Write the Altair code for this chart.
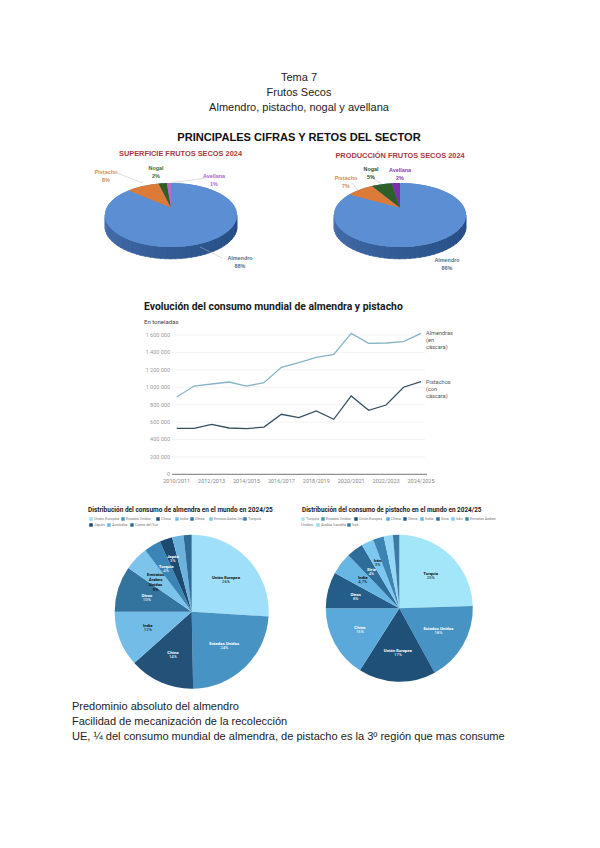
import math
import altair as alt

# ---------- data ----------
years = ["2010/2011","2011/2012","2012/2013","2013/2014","2014/2015","2015/2016","2016/2017","2017/2018",
         "2018/2019","2019/2020","2020/2021","2021/2022","2022/2023","2023/2024","2024/2025"]
almendras = [888000,1014000,1037000,1060000,1014000,1052000,1229000,1282000,1343000,1378000,1619000,1504000,1508000,1523000,1619000]
pistachos = [528000,528000,574000,532000,524000,543000,689000,651000,727000,632000,900000,735000,796000,1000000,1064000]
y_ticks = [0,200000,400000,600000,800000,1000000,1200000,1400000,1600000]
y_tick_labels = ["0","200 000","400 000","600 000","800 000","1 000 000","1 200 000","1 400 000","1 600 000"]
x_ticks = years[::2]

sup_vals = [88,8,2,1]
sup_cols = ["#5b8ed2","#dc7a38","#2f5f24","#b56ad6"]
prod_vals = [86,7,5,2]
prod_cols = ["#5b8ed2","#dc7a38","#2d5f2a","#7a30a8"]

alm_names = ["Unión Europea","Estados Unidos","China","India","Otros","Emiratos Árabes Unidos","Turquía","Japón","Australia","Corea del Sur"]
alm_labels = ["Unión Europea","Estados Unidos","China","India","Otros","Emiratos|Árabes|Unidos|5%","Turquía","Japón","",""]
alm_vals = [26,23.7,13.7,11.6,9.6,5.1,3.5,2.7,2.4,1.7]
alm_pct = ["26%","24%","14%","12%","10%","","4%","3%","",""]
alm_cols = ["#9fdff9","#4693c4","#235178","#72bce8","#33749f","#7cc4ec","#3a85b5","#1d4a70","#6bb3de","#2e6c98"]
alm_txt = ["#111111","#ffffff","#ffffff","#111111","#ffffff","#111111","#ffffff","#ffffff","#ffffff","#ffffff"]
alm_rad = [47,47,47,47,47,50,50,56,47,47]

pis_names = ["Turquía","Estados Unidos","Unión Europea","China","Otros","India","Siria","Irán","Emiratos Árabes","Arabia Saudita","Irak"]
pis_labels = ["Turquía","Estados Unidos","Unión Europea","China","Otros","India","Siria","Irán","","",""]
pis_vals = [24.5,17.5,17,16,8,4.8,3.7,2.7,2.4,2,1.4]
pis_pct = ["25%","18%","17%","16%","8%","4,7%","4%","3%","","",""]
pis_cols = ["#a4e6f9","#4693c4","#1f5078","#5ba9da","#245d88","#68b6e3","#2e6d9a","#7cc8f0","#3d84b3","#93d8f7","#3a7ba8"]
pis_txt = ["#111111","#ffffff","#ffffff","#ffffff","#ffffff","#111111","#ffffff","#111111","#ffffff","#ffffff","#ffffff"]
pis_rad = [45,45,45,45,45,46,46,50,45,45,45]

FONT = "Liberation Sans"
RB = "Roboto"
layers = []
one = alt.Data(values=[{"a": 0}])

def T(x, y, s, size=6, color="#222222", weight="normal", align="left", font=RB):
    layers.append(alt.Chart(one).mark_text(fontSize=size, color=color, fontWeight=weight, align=align,
                                           baseline="middle", font=font)
                  .encode(x=alt.value(x-8), y=alt.value(y-8), text=alt.value(s)))

def R(x1, y1, x2, y2, color="#bbbbbb", w=0.5):
    layers.append(alt.Chart(one).mark_rule(color=color, strokeWidth=w)
                  .encode(x=alt.value(x1-8), x2=alt.value(x2-8), y=alt.value(y1-8), y2=alt.value(y2-8)))

# ---------- document text ----------
T(299,78,"Tema 7",11,"#222222",align="center",font=FONT)
T(299,93,"Frutos Secos",11,"#222222",align="center",font=FONT)
T(299,108,"Almendro, pistacho, nogal y avellana",11,"#222222",align="center",font=FONT)
T(299,138,"PRINCIPALES CIFRAS Y RETOS DEL SECTOR",11.1,"#111111","bold",align="center",font=FONT)
T(72,707,"Predominio absoluto del almendro",11,"#222222",font=FONT)
T(72,722,"Facilidad de mecanización de la recolección",11,"#222222",font=FONT)
T(72,737,"UE, ¼ del consumo mundial de almendra, de pistacho es la 3º región que mas consume",11.07,"#222222",font=FONT)

# ---------- 3D pies: elliptical slices through one identity projection ----------
RY = 0.485; APEX = 0.11; DEPTH = 0.18
RAD = 66
PIE_GAP = (400-171)/RAD   # second pie, in pie radii to the right of the first

def ell(t, off):
    return [off+math.sin(t), RY*math.cos(t)]

def feature(ring, color):
    return {"type":"Feature","properties":{"color":color},"geometry":{"type":"Polygon","coordinates":[ring]}}

def pie3d(vals, cols, off):
    side = []
    n = 40
    for k in range(n):
        a = math.pi/2 + math.pi*k/n
        b = math.pi/2 + math.pi*(k+1)/n + 0.01
        f = (k+0.5)/n   # 0 = right, 1 = left
        c0, c1 = (38,78,132), (70,112,175)
        col = "#%02x%02x%02x" % tuple(int(c0[i]+(c1[i]-c0[i])*f**1.3) for i in range(3))
        p, q = ell(a,off), ell(b,off)
        side.append(feature([p,q,[q[0],q[1]-DEPTH],[p[0],p[1]-DEPTH],p], col))
    tops = [feature([ell(2*math.pi*k/90,off) for k in range(91)], cols[0])]
    tot = sum(vals); acc = 0
    for v, c in zip(vals, cols):
        a0 = 2*math.pi*acc/tot; a1 = 2*math.pi*(acc+v)/tot
        m = max(3, int(60*(a1-a0)))
        ring = [[off, APEX]] + [ell(a0+(a1-a0)*j/m,off) for j in range(m+1)] + [[off, APEX]]
        tops.append(feature(ring, c))
        acc += v
    for feats, sw in ((side, 0.6), (tops, 0)):
        layers.append(alt.Chart(alt.Data(values=feats)).mark_geoshape(strokeWidth=sw)
                      .encode(color=alt.Color("properties.color:N", scale=None),
                              stroke=alt.Stroke("properties.color:N", scale=None))
                      .project(type="identity", reflectY=True, scale=RAD, translate=[171-8, 215-8]))

pie3d(sup_vals, sup_cols, 0)
pie3d(prod_vals, prod_cols, PIE_GAP)

T(180.5,154,"SUPERFICIE FRUTOS SECOS 2024",7.4,"#a63a40","bold",align="center",font=FONT)
T(400,156,"PRODUCCIÓN FRUTOS SECOS 2024",7.4,"#a63a40","bold",align="center",font=FONT)

R(117,173,143,183); R(206,178,170,183); R(222,258,200,247)
R(352,183,358,190); R(372,178,382,184)
lab = lambda x,y,a,b,c: (T(x,y,a,5.4,c,"bold",align="center",font=FONT), T(x,y+7.5,b,5.4,c,"bold",align="center",font=FONT))
lab(106,172,"Pistacho","8%","#d88a55")
lab(156,168,"Nogal","2%","#3c6b34")
lab(214,176,"Avellana","1%","#a868c8")
lab(240,258,"Almendro","88%","#55708f")
lab(346,178,"Pistacho","7%","#d88a55")
lab(371,169,"Nogal","5%","#2f4f2a")
lab(400,170,"Avellana","2%","#8a3ab0")
lab(447,260,"Almendro","86%","#55708f")

# ---------- line chart ----------
T(144,307,"Evolución del consumo mundial de almendra y pistacho",10.4,"#1a1a1a","bold")
T(144,322,"En toneladas",6,"#444444")

xs = alt.Scale(type="point", domain=years, range=[176.7-8, 421-8], padding=0)
ys = alt.Scale(domain=[0,1600000], range=[474.3-8, 335-8])
tick_rows = [{"v":v,"l":l} for v,l in zip(y_ticks,y_tick_labels)]
layers.append(alt.Chart(alt.Data(values=[r for r in tick_rows if r["v"]>0])).mark_rule(color="#eeeeee", strokeWidth=0.7)
              .encode(y=alt.Y("v:Q",scale=ys,axis=None), x=alt.value(172-8), x2=alt.value(425-8)))
layers.append(alt.Chart(alt.Data(values=[{"v":0}])).mark_rule(color="#666666", strokeWidth=0.9)
              .encode(y=alt.Y("v:Q",scale=ys,axis=None), x=alt.value(172-8), x2=alt.value(427-8)))
layers.append(alt.Chart(alt.Data(values=tick_rows)).mark_text(fontSize=5.5,color="#999999",align="right",baseline="middle",font=RB)
              .encode(y=alt.Y("v:Q",scale=ys,axis=None), x=alt.value(170-8), text="l:N"))
layers.append(alt.Chart(alt.Data(values=[{"t":t} for t in x_ticks])).mark_text(fontSize=5.5,color="#888888",align="center",baseline="middle",font=RB)
              .encode(x=alt.X("t:N",scale=xs,axis=None), y=alt.value(481-8), text="t:N"))
for vals, col in ((almendras,"#86b4c6"),(pistachos,"#35505f")):
    layers.append(alt.Chart(alt.Data(values=[{"t":t,"v":v} for t,v in zip(years,vals)])).mark_line(color=col,strokeWidth=1.3)
                  .encode(x=alt.X("t:N",scale=xs,axis=None,sort=None), y=alt.Y("v:Q",scale=ys,axis=None)))
for i,s in enumerate(["Almendras","(en","cáscara)"]):
    T(426,333+7.2*i,s,5.6,"#555555")
for i,s in enumerate(["Pistachos","(con","cáscara)"]):
    T(426,382+7.2*i,s,5.6,"#555555")

# ---------- flat pies ----------
def flat_pie(labels, vals, pct, cols, txt, radii, cx, cy, rad):
    total = sum(vals)
    mids = []; acc = 0
    for v in vals:
        mids.append(acc + v/2); acc += v
    rows = [{"i":i,"n":n,"v":v,"p":p,"c":c,"t":t,"r":r,"m":m}
            for i,(n,v,p,c,t,r,m) in enumerate(zip(labels,vals,pct,cols,txt,radii,mids))]
    data = alt.Data(values=rows)
    layers.append(alt.Chart(data).mark_arc(outerRadius=rad, innerRadius=0)
                  .encode(theta=alt.Theta("v:Q",stack=True), order=alt.Order("i:Q"),
                          color=alt.Color("c:N",scale=None), x=alt.value(cx-8), y=alt.value(cy-8)))
    for field, base, w in (("n","bottom","bold"),("p","top","normal")):
        layers.append(alt.Chart(data).mark_text(fontSize=4.3, fontWeight=w, font=RB, baseline=base, align="center", lineBreak="|", lineHeight=4.8)
                      .encode(theta=alt.Theta("m:Q",stack=None,scale=alt.Scale(domain=[0,total])),
                              radius=alt.Radius("r:Q",scale=None),
                              color=alt.Color("t:N",scale=None), x=alt.value(cx-8), y=alt.value(cy-8),
                              text=alt.Text(f"{field}:N")))

def legend_row(names, cols, pos, y, sizes=None):
    for j, (n, c, x) in enumerate(zip(names, cols, pos)):
        layers.append(alt.Chart(one).mark_square(size=12, color=c, opacity=1, filled=True)
                      .encode(x=alt.value(x-8), y=alt.value(y-8)))
        T(x+3, y, n, (sizes or {}).get(j, 3.9), "#777777")

flat_pie(alm_labels, alm_vals, alm_pct, alm_cols, alm_txt, alm_rad, 191.7, 611.7, 77)
flat_pie(pis_labels, pis_vals, pis_pct, pis_cols, pis_txt, pis_rad, 399.3, 608.3, 73.5)

T(88,510,"Distribución del consumo de almendra en el mundo en 2024/25",6.5,"#222222","bold")
T(302,510,"Distribución del consumo de pistacho en el mundo en 2024/25",6.4,"#222222","bold")
legend_row(alm_names[:7], alm_cols[:7], [91,123,158,177,192,211,245], 519, {1:3.6, 5:3.1})
legend_row(alm_names[7:], alm_cols[7:], [91,109,132], 525)
legend_row(pis_names[:9], pis_cols[:9], [303,323,356,388,405,422,438,453,467], 519, {1:3.6, 2:3.6, 8:3.5})
T(301,525,"Unidos",3.9,"#777777")
legend_row(pis_names[9:], pis_cols[9:], [318,349], 525)

chart = alt.layer(*layers).resolve_scale(x="independent", y="independent", theta="independent", color="independent").properties(
    width=584, height=832, padding=0, autosize=alt.AutoSizeParams(type="none"), background="white"
).configure_view(stroke=None)

chart.save("out.html", embed_options={"renderer": "svg", "actions": False})
